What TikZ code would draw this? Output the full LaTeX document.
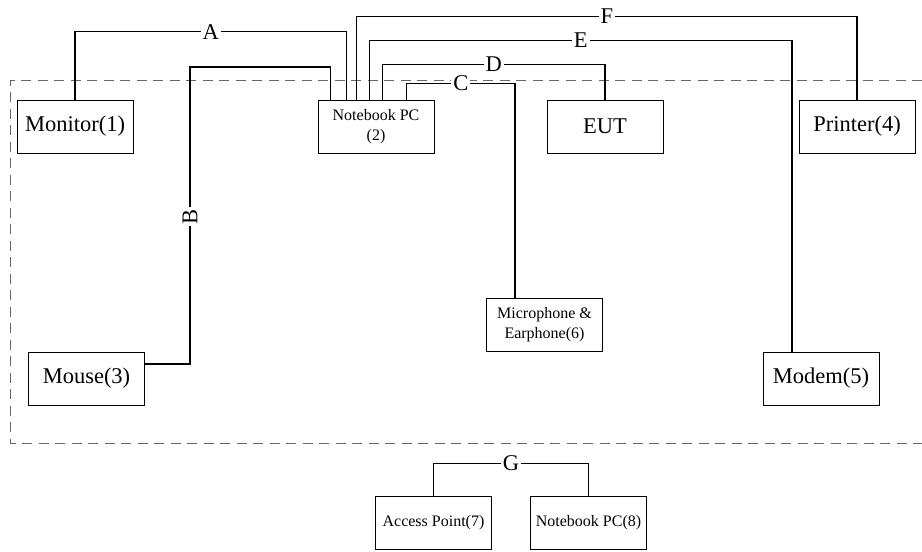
\documentclass[tikz,border=0pt]{standalone}
\usepackage{fontspec}
\setmainfont{Liberation Serif}
\begin{document}
\begin{tikzpicture}[x=1pt,y=-1pt,
  device/.style={draw,line width=0.8pt,minimum width=116pt,minimum height=53pt,inner sep=0pt,font=\fontsize{22.5}{24}\selectfont},
  smalldevice/.style={device,align=center,font=\fontsize{16}{20}\selectfont},
  cable/.style={line width=1.3pt},
  cablelabel/.style={fill=white,inner sep=2pt,font=\fontsize{22.5}{24}\selectfont}]
 \useasboundingbox (0,0) rectangle (922,552);
 \draw[black!60,line width=1pt,dash pattern=on 10pt off 6.5pt] (922,80) -- (10,80) -- (10,443) -- (922,443);

 \node[device] (monitor) at (75,126.5) {Monitor(1)};
 \node[smalldevice] (nbpc) at (376,126.5) {Notebook PC\\(2)};
 \node[device] (eut) at (605,126.5) {EUT};
 \node[device] (printer) at (857,126.5) {Printer(4)};
 \node[smalldevice] (mic) at (544.5,324.5) {Microphone \&\\Earphone(6)};
 \node[device] (mouse) at (86.5,378.5) {Mouse(3)};
 \node[device] (modem) at (821,378.5) {Modem(5)};
 \node[smalldevice] (ap) at (433.5,522.5) {Access Point(7)};
 \node[smalldevice] (nbpc8) at (588.5,522.5) {Notebook PC(8)};

 \draw[cable] (monitor.north) -- ++(0,-68) -| node[cablelabel,pos=0.25] {A} ([xshift=29pt]nbpc.north west);
 \draw[cable] ([yshift=14.5pt]mouse.east) -- (190,364) -- node[cablelabel,rotate=90,pos=0.495] {B} (190,67) -| ([xshift=13pt]nbpc.north west);
 \draw[cable] ([xshift=89pt]nbpc.north west) -- ++(0,-16) -| node[cablelabel,pos=0.25] {C} ([xshift=-29.5pt]mic.north);
 \draw[cable] ([xshift=65pt]nbpc.north west) -- ++(0,-35) -| node[cablelabel,pos=0.25] {D} (eut.north);
 \draw[cable] ([xshift=52pt]nbpc.north west) -- ++(0,-59) -| node[cablelabel,pos=0.25] {E} ([xshift=-29pt]modem.north);
 \draw[cable] ([xshift=39pt]nbpc.north west) -- ++(0,-83) -| node[cablelabel,pos=0.25] {F} (printer.north);
 \draw[cable] (ap.north) -- ++(0,-32) -| node[cablelabel,pos=0.25] {G} (nbpc8.north);
\end{tikzpicture}
\end{document}
